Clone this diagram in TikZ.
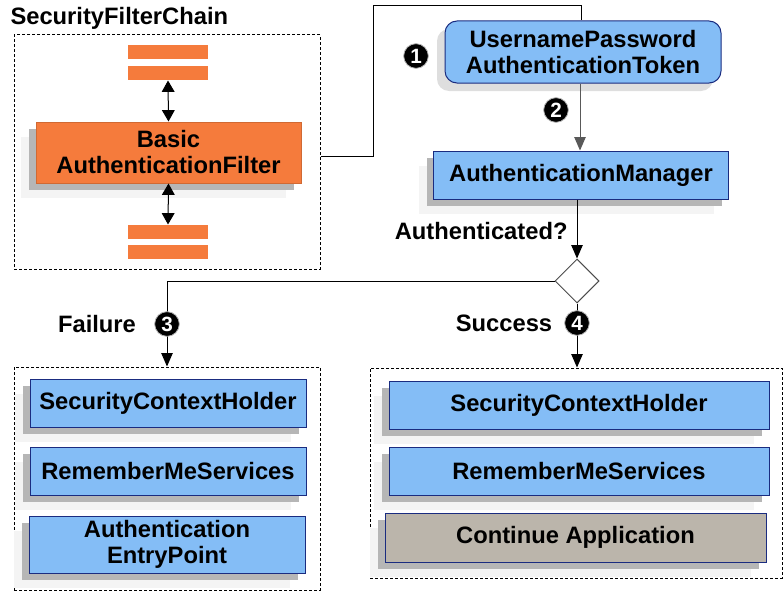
\documentclass[tikz,border=0pt]{standalone}
\usepackage{fontspec}
\setmainfont{Liberation Sans}
\usetikzlibrary{arrows.meta,shapes.geometric,shadows}

\definecolor{boxblue}{RGB}{132,189,246}
\definecolor{boxedge}{RGB}{26,44,128}
\definecolor{filterorange}{RGB}{245,123,60}
\definecolor{appgray}{RGB}{187,181,171}
\definecolor{shadowdark}{RGB}{182,182,182}
\definecolor{shadowlight}{RGB}{244,244,244}
\definecolor{shadowtoken}{RGB}{222,222,222}

\tikzset{every picture/.style={line width=0.75pt}}
\tikzset{
  lbl/.style={font=\fontsize{17.8}{19.5}\selectfont\bfseries, align=center, inner sep=0pt},
  dropshadow/.style={general shadow={fill=shadowlight, shadow xshift=-11.25pt, shadow yshift=-11.25pt},
                     general shadow={fill=shadowdark, shadow xshift=-5.25pt, shadow yshift=-5.25pt}},
  compbox/.style={lbl, draw=boxedge, fill=boxblue, dropshadow, minimum width=207pt, minimum height=36pt},
  groupbox/.style={draw, dash pattern=on 2.25pt off 1.5pt, inner sep=0pt},
  filterbar/.style={fill=filterorange, inner sep=0pt, minimum width=60pt, minimum height=10.5pt},
  numcirc/.style={circle, fill=black, draw=black!30, line width=0.6pt, text=white, inner sep=0pt,
                  minimum size=18.5pt, font=\fontsize{15.5}{15.5}\selectfont\bfseries},
  arr/.style={-{Triangle[length=10pt,width=8.5pt]}},
  duplex/.style={{Triangle[length=8.5pt,width=9.5pt]}-{Triangle[length=8.5pt,width=9.5pt]}},
}

\begin{document}
\begin{tikzpicture}[x=0.75pt,y=0.75pt,yscale=-1,xscale=1]
\useasboundingbox (0,0) rectangle (784,592);

%Shape: Dashed Rectangle [id:chain]
\node [groupbox, minimum width=229.5pt, minimum height=175.5pt] (chain) at (167,152) {};
% Text Node
\node [lbl, anchor=west] (chaintitle) at (10,18) {SecurityFilterChain};

%Shape: Rectangle [id:bars]
\node [filterbar] (bar1) at (168,52) {};
\node [filterbar] (bar2) at (168,73) {};
\node [filterbar] (bar3) at (168,232) {};
\node [filterbar] (bar4) at (168,252) {};
%Shape: Rectangle [id:filter]
\node [lbl, draw=filterorange!85!black, fill=filterorange, dropshadow,
       minimum width=198.75pt, minimum height=45.75pt] (filter) at (168.5,152.5) {Basic\\AuthenticationFilter};

%Straight Lines [id:filterlinks]
\draw [duplex] (bar2.south) -- (filter.north);
\draw [duplex] (filter.south) -- (bar3.north);

%Shape: Rounded Rectangle [id:token]
\node [lbl, draw=boxedge, fill=boxblue, rounded corners=9pt,
       general shadow={fill=shadowtoken, shadow xshift=-6pt, shadow yshift=-6pt},
       minimum width=207pt, minimum height=46.5pt] (token) at (583,52) {UsernamePassword\\AuthenticationToken};
%Shape: Rectangle [id:manager]
\node [compbox, minimum width=221.25pt] (manager) at (581,175) {AuthenticationManager};
%Shape: Diamond [id:decision]
\node [diamond, draw=black!70, fill=white, inner sep=0pt, minimum width=33pt, minimum height=33pt] (decision) at (577,281) {};

%Shape: Dashed Rectangle [id:failbox]
\node [groupbox, minimum width=229.5pt, minimum height=167.25pt] (failbox) at (167,478.5) {};
%Shape: Dashed Rectangle [id:succbox]
\node [groupbox, minimum width=309pt, minimum height=157.5pt] (succbox) at (576,473) {};

%Straight Lines [id:links]
\coordinate (topturn) at (373,6);
\draw ([yshift=3]chain.east) -| (topturn) -| (token.north -| manager.north);
\draw [arr, black!65] (token.south -| 580,0) -- (manager.north -| 580,0);
\draw [arr] (manager.south -| decision.north) -- (decision.north);
\draw [arr] (decision.west) -| (failbox.north);
\draw [arr] (decision.south) -- (decision.south |- succbox.north);

% Text Node
\node [lbl, anchor=east] (authq) at (568,231) {Authenticated?};
\node [lbl] (failtxt) at (97,324) {Failure};
\node [lbl] (succtxt) at (504,323) {Success};

%Shape: Circle [id:steps]
\node [numcirc] (step1) at (416,56) {1};
\node [numcirc] (step2) at (556,110) {2};
\node [numcirc] (step3) at (167,324) {3};
\node [numcirc] (step4) at (577,323) {4};

%Shape: Rectangle [id:failure]
\node [compbox] (failctx) at (168,403) {SecurityContextHolder};
\node [compbox] (failremember) at (168,471) {RememberMeServices};
\node [compbox, minimum height=42.75pt] (entry) at (167,544.5) {Authentication\\EntryPoint};

%Shape: Rectangle [id:success]
\node [compbox, minimum width=285pt] (succctx) at (579,405) {SecurityContextHolder};
\node [compbox, minimum width=285pt] (succremember) at (579,471) {RememberMeServices};
\node [compbox, fill=appgray, minimum width=285.75pt, minimum height=36.75pt] (continue) at (575.5,537.5) {Continue Application};

\end{tikzpicture}
\end{document}
